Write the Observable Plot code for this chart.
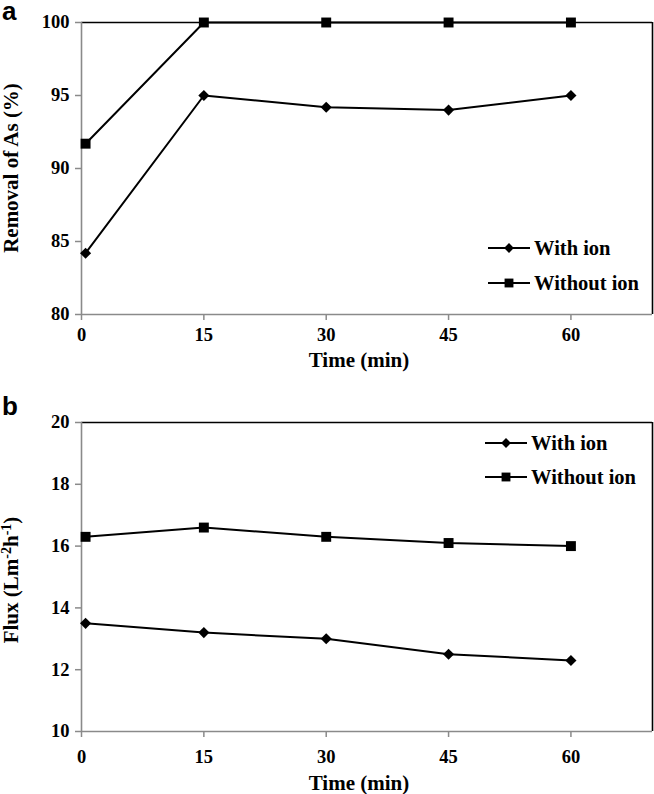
<!DOCTYPE html>
<html><head><meta charset="utf-8">
<script src="https://cdn.jsdelivr.net/npm/d3@7"></script>
<script src="https://cdn.jsdelivr.net/npm/@observablehq/plot@0.6"></script>
<style>
body{margin:0;background:#fff;}
#wrap{position:relative;width:654px;height:794px;overflow:hidden;background:#fff;}
#wrap svg.plotsvg{position:absolute;left:0;}
#overlay{position:absolute;left:0;top:0;pointer-events:none;}
</style></head><body><div id="wrap"></div>
<script>
// ---- data ----
const times = [0.5, 15, 30, 45, 60];
const series = ["With ion", "Without ion"];
const removalWith = [84.2, 95.0, 94.2, 94.0, 95.0];
const removalWithout = [91.7, 100, 100, 100, 100];
const fluxWith = [13.5, 13.2, 13.0, 12.5, 12.3];
const fluxWithout = [16.3, 16.6, 16.3, 16.1, 16.0];
const xTicks = [0, 15, 30, 45, 60];
const xDomain = [0, 70];
const removalTicks = [80, 85, 90, 95, 100];
const removalDomain = [80, 100];
const fluxTicks = [10, 12, 14, 16, 18, 20];
const fluxDomain = [10, 20];

const serif = "'Liberation Serif','Times New Roman',serif";
const sans = "'Liberation Sans',Arial,sans-serif";
const gray = "#8a8a8a";

function rows(withVals, withoutVals) {
  const out = [];
  times.forEach((t, i) => out.push({time: t, value: withVals[i], series: series[0]}));
  times.forEach((t, i) => out.push({time: t, value: withoutVals[i], series: series[1]}));
  return out;
}

function panel({height, top, bottom, yDomain, yTicks, data, xPad}) {
  const svg = Plot.plot({
    width: 654, height,
    marginLeft: 81, marginRight: 2, marginTop: top, marginBottom: height - bottom,
    x: {domain: xDomain},
    y: {domain: yDomain},
    style: {fontFamily: serif, fontSize: "18.5px", fontWeight: "bold", background: "transparent", color: "black", overflow: "visible"},
    marks: [
      Plot.ruleY([yDomain[1]], {stroke: "black", strokeWidth: 1.6}),
      Plot.ruleX([xDomain[1]], {stroke: "black", strokeWidth: 1.6}),
      Plot.axisY({ticks: yTicks, tickSize: 6, tickPadding: 6, stroke: gray, strokeWidth: 1.5, fill: "black", label: null}),
      Plot.axisX({ticks: xTicks, tickSize: 6, tickPadding: xPad, stroke: gray, strokeWidth: 1.5, fill: "black", label: null}),
      Plot.ruleX([xDomain[0]], {stroke: gray, strokeWidth: 1.6}),
      Plot.ruleY([yDomain[0]], {stroke: gray, strokeWidth: 1.6}),
      Plot.line(data, {x: "time", y: "value", z: "series", stroke: "black", strokeWidth: 2}),
      Plot.dot(data, {filter: d => d.series === series[0], x: "time", y: "value", symbol: "diamond2", r: 5, fill: "black", stroke: "none"}),
      Plot.dot(data, {filter: d => d.series === series[1], x: "time", y: "value", symbol: "square", r: 5.6, fill: "black", stroke: "none"})
    ]
  });
  svg.classList.add("plotsvg");
  return svg;
}

const wrap = document.getElementById("wrap");
const a = panel({height: 400, top: 22, bottom: 314, yDomain: removalDomain, yTicks: removalTicks, data: rows(removalWith, removalWithout), xPad: 7});
a.style.top = "0px";
const b = panel({height: 394, top: 22, bottom: 331, yDomain: fluxDomain, yTicks: fluxTicks, data: rows(fluxWith, fluxWithout), xPad: 12.5});
b.style.top = "400px";
wrap.appendChild(a);
wrap.appendChild(b);

// ---- overlay: panel letters, axis titles, legends ----
const ov = d3.select(wrap).append("svg").attr("id", "overlay").attr("width", 654).attr("height", 794);

ov.append("text").attr("x", 2).attr("y", 20).attr("font-family", sans).attr("font-weight", "bold").attr("font-size", 26).text("a");
ov.append("text").attr("x", 2).attr("y", 415).attr("font-family", sans).attr("font-weight", "bold").attr("font-size", 26).text("b");

const titleStyle = t => t.attr("font-family", serif).attr("font-weight", "bold").attr("font-size", 21).attr("text-anchor", "middle");
titleStyle(ov.append("text")).attr("x", 359).attr("y", 367).text("Time (min)");
titleStyle(ov.append("text")).attr("x", 359).attr("y", 790).text("Time (min)");
titleStyle(ov.append("text")).attr("transform", "translate(18,168) rotate(-90)").text("Removal of As (%)");
const flux = titleStyle(ov.append("text")).attr("transform", "translate(18,580) rotate(-90)");
flux.append("tspan").text("Flux (Lm");
flux.append("tspan").attr("dy", -7).attr("font-size", 14).text("-2");
flux.append("tspan").attr("dy", 7).text("h");
flux.append("tspan").attr("dy", -7).attr("font-size", 14).text("-1");
flux.append("tspan").attr("dy", 7).text(")");

const diamond = d3.symbol(d3.symbolDiamond2, Math.PI * 4.4 * 4.4)();
const square = d3.symbol(d3.symbolSquare, Math.PI * 5 * 5)();
function legend(x0, x1, ys) {
  series.forEach((s, i) => {
    const g = ov.append("g");
    g.append("line").attr("x1", x0).attr("x2", x1).attr("y1", ys[i]).attr("y2", ys[i]).attr("stroke", "black").attr("stroke-width", 2);
    g.append("path").attr("d", i === 0 ? diamond : square).attr("transform", `translate(${(x0 + x1) / 2},${ys[i]})`).attr("fill", "black");
    g.append("text").attr("x", x1 + 4).attr("y", ys[i] + 7).attr("font-family", serif).attr("font-weight", "bold").attr("font-size", 20.5).text(s);
  });
}
legend(488, 530, [248, 283]);
legend(485, 527, [443, 477]);
</script>
</body></html>
